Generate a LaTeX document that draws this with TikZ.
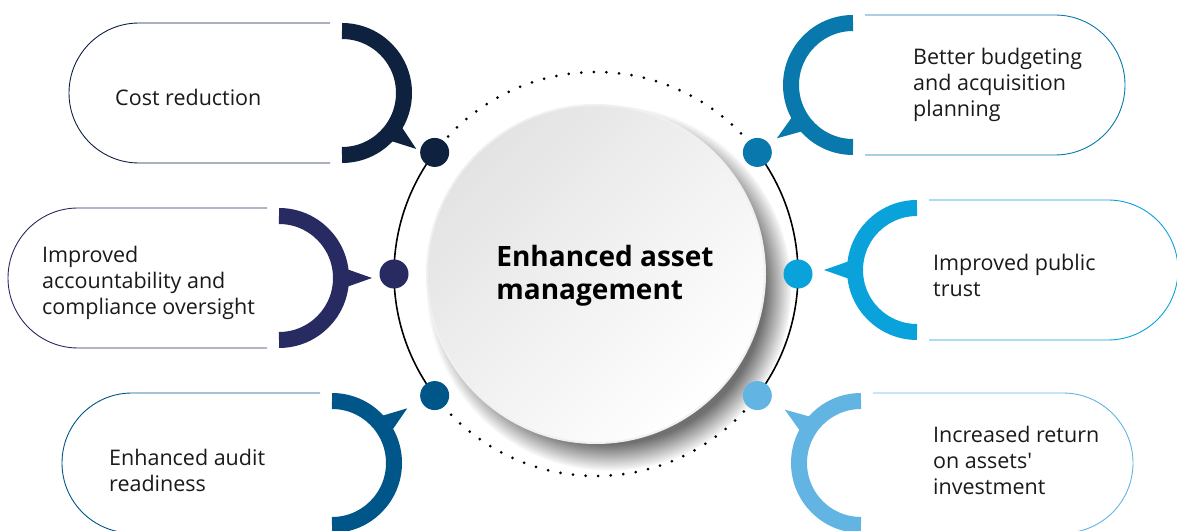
\documentclass[tikz,border=0pt]{standalone}
\usepackage{fontspec}
\setmainfont{Open Sans}
\usetikzlibrary{shadows, positioning}

\definecolor{navy}{HTML}{0E2240}
\definecolor{indigo}{HTML}{282B62}
\definecolor{deepblue}{HTML}{005689}
\definecolor{midblue}{HTML}{0878AD}
\definecolor{cyanblue}{HTML}{0AA2DB}
\definecolor{skyblue}{HTML}{62B4E2}
\definecolor{ink}{HTML}{1A1A1A}

\begin{document}
\begin{tikzpicture}[x=1pt, y=1pt,
    hub/.style={circle, minimum size=338pt, inner sep=0pt,
      shading=axis, top color=black!11, bottom color=white, shading angle=45,
      draw=black!6, line width=2pt,
      circular drop shadow={shadow xshift=12pt, shadow yshift=-13pt,
        shadow scale=1.08, opacity=0.7, fill=black!80}},
    ring/.style={line width=1.6pt, black},
    dotring/.style={line width=3pt, line cap=round, dash pattern=on 0pt off 12.6pt},
    knob/.style={circle, inner sep=0pt, minimum size=29pt},
    benefit/.style={anchor=west, align=left, inner sep=0pt, text=ink,
      font=\fontsize{21.5}{26}\selectfont}]
  \useasboundingbox (0,0) rectangle (1177,530);

  % central disc and its title
  \node[hub] (hub) at (596,256) {};
  \node[align=left, text=black, font=\fontsize{28}{33}\selectfont\bfseries]
    (title) at (605,254) {Enhanced asset\\management};

  % outer ring: solid at the sides, dotted on top and bottom
  \draw[ring]    (hub.center) ++(143:202) arc[start angle=143, end angle=217, radius=202];
  \draw[ring]    (hub.center) ++(-37:202) arc[start angle=-37, end angle=37, radius=202];
  \draw[dotring] (hub.center) ++(37:202)  arc[start angle=37, end angle=143, radius=202];
  \draw[dotring] (hub.center) ++(217:202) arc[start angle=217, end angle=323, radius=202];

  % knobs on the ring
  \path (hub.center) ++(143:202) node[knob, fill=navy]     (k1) {};
  \path (hub.center) ++(180:202) node[knob, fill=indigo]   (k2) {};
  \path (hub.center) ++(217:202) node[knob, fill=deepblue] (k3) {};
  \path (hub.center) ++(37:202)  node[knob, fill=midblue]  (k4) {};
  \path (hub.center) ++(0:202)   node[knob, fill=cyanblue] (k5) {};
  \path (hub.center) ++(-37:202) node[knob, fill=skyblue]  (k6) {};

  % speech bubbles: arc centre, cap centre, side (1 = text left), tail angle, colour
  \foreach \cx/\cy/\capx/\s/\a/\col in {342/437/139/1/-37/navy, 279/252/78/1/0/indigo,
      332/67/132/1/36/deepblue, 853/445/1055/-1/215/midblue,
      917/260/1108/-1/180/cyanblue, 861/67/1063/-1/145/skyblue} {
    % thin outline with its round cap
    \draw[\col, line width=0.9pt] (\cx-12*\s,\cy+70) -- (\capx,\cy+70)
      arc[start angle=90, end angle=90+180*\s, radius=70] -- (\cx-12*\s,\cy-70);
    % thick half ring
    \draw[\col, line width=16pt] (\cx,\cy) ++(0,62)
      arc[start angle=90, end angle=90-180*\s, radius=62];
    % tail towards the knob
    \fill[\col, shift={(\cx,\cy)}] (\a+9:65) -- (\a:93) -- (\a-9:65) -- cycle;
  }

  % texts
  \node[benefit] (cost)    at (115,433) {Cost reduction};
  \node[benefit] (account) at (42,247)  {Improved\\accountability and\\compliance oversight};
  \node[benefit] (audit)   at (109,60)  {Enhanced audit\\readiness};
  \node[benefit] (budget)  at (913,445) {Better budgeting\\and acquisition\\planning};
  \node[benefit] (trust)   at (933,255) {Improved public\\trust};
  \node[benefit] (return)  at (933,70)  {Increased return\\on assets\textquotesingle\\investment};
\end{tikzpicture}
\end{document}
